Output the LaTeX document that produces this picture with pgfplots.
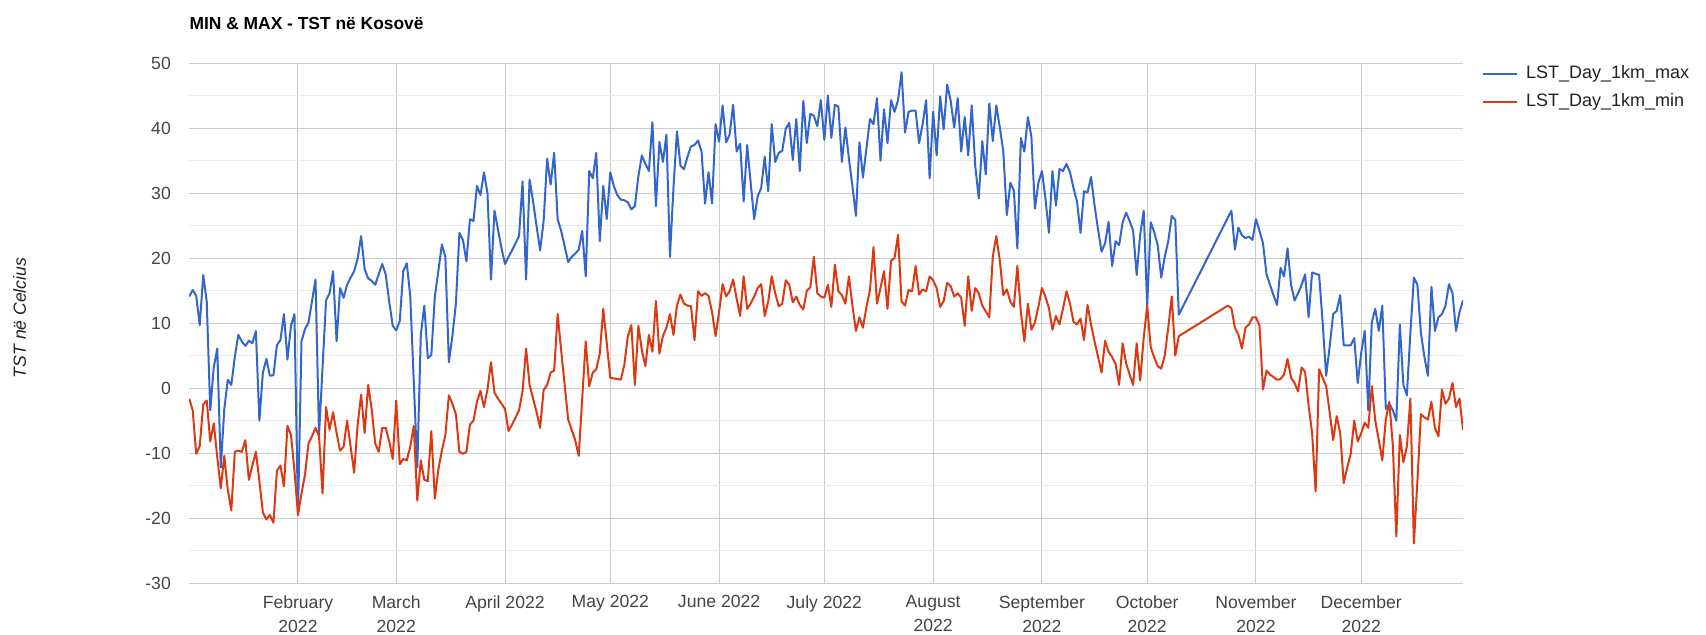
\documentclass[border=0pt]{standalone}
\usepackage{fontspec}
\setmainfont{Liberation Sans}
\usepackage{pgfplots}
\pgfplotsset{compat=1.18}
\definecolor{gblue}{HTML}{3366CC}
\definecolor{gred}{HTML}{DC3912}
\definecolor{gridmaj}{HTML}{CCCCCC}
\definecolor{gridmin}{HTML}{EBEBEB}
\definecolor{ticktext}{HTML}{444444}
\definecolor{labeltext}{HTML}{222222}
\begin{document}
\begin{tikzpicture}
\useasboundingbox (0,0) rectangle (853pt,317pt);
\begin{axis}[
  at={(94.6pt,25.4pt)}, anchor=south west,
  scale only axis, width=636.9pt, height=260.05pt,
  xmin=0, xmax=363, ymin=-30, ymax=50,
  enlargelimits=false,
  axis line style={draw=none},
  major tick length=0pt, minor tick length=0pt,
  xtick={31,59,90,120,151,181,212,243,273,304,334},
  xticklabels={{February\\2022},{March\\2022},{April 2022},{May 2022},{June 2022},{July 2022},{August\\2022},{September\\2022},{October\\2022},{November\\2022},{December\\2022}},
  ytick={-30,-20,-10,0,10,20,30,40,50},
  yticklabels={-30,-20,-10,0,10,20,30,40,50},
  minor ytick={-25,-15,-5,5,15,25,35,45},
  xmajorgrids, ymajorgrids, yminorgrids,
  major grid style={draw=gridmaj, line width=0.5pt},
  minor grid style={draw=gridmin, line width=0.5pt},
  extra y ticks={0}, extra y tick labels={},
  extra y tick style={grid style={draw=black!75, line width=0.6pt}},
  tick label style={font=\fontsize{8.8}{11.9}\selectfont, text=ticktext},
  xticklabel style={align=center, anchor=north, inner sep=0pt, yshift=-6pt},
  yticklabel style={anchor=east, inner sep=0pt, xshift=-9pt},
  ylabel={TST në Celcius},
  ylabel style={at={(axis description cs:-0.1331,0.51)}, anchor=center, inner sep=0pt,
    font=\fontsize{8.8}{10}\selectfont\itshape, text=labeltext},
  title={MIN \& MAX - TST në Kosovë},
  title style={at={(axis description cs:0,1.0752)}, anchor=west, yshift=-6pt, inner sep=0pt,
    font=\fontsize{8.7}{10}\selectfont\bfseries, text=black},
  legend style={at={(axis description cs:1.0146,0.996)}, anchor=north west,
    draw=none, fill=none, inner sep=0pt, row sep=5.6pt, column sep=3.8pt,
    font=\fontsize{9}{10}\selectfont, text=labeltext,
    nodes={inner sep=0pt, text height=6.5pt, text depth=2pt},
    cells={anchor=west}},
  legend image code/.code={\draw[#1] (0pt,0pt) -- (17.2pt,0pt);},
  every axis plot/.append style={line width=1pt, line join=round, mark=none},
]
\addplot[gblue] coordinates {
(0,14.1)(1,15.1)(2,14.2)(3,9.7)(4,17.4)(5,13.3)(6,-3.4)(7,3.2)(8,6.1)(9,-12.2)
(10,-3.2)(11,1.3)(12,0.5)(13,4.8)(14,8.2)(15,7.2)(16,6.5)(17,7.3)(18,6.9)(19,8.8)
(20,-5.0)(21,2.4)(22,4.5)(23,1.9)(24,2.0)(25,6.6)(26,7.4)(27,11.4)(28,4.4)(29,9.6)
(30,11.4)(31,-19.5)(32,7.2)(33,9.1)(34,10.1)(35,13.4)(36,16.7)(37,-7.2)(39,13.5)
(40,14.6)(41,18.0)(42,7.2)(43,15.4)(44,13.9)(45,15.9)(46,17.0)(47,18.0)(48,19.9)(49,23.4)
(50,18.3)(51,16.9)(52,16.5)(53,15.9)(54,17.5)(55,19.1)(56,17.5)(57,13.3)(58,9.6)(59,8.9)
(60,10.3)(61,18.0)(62,19.2)(63,14.1)(65,-12.2)(66,8.2)(67,12.7)(68,4.6)(69,5.1)
(70,14.1)(71,18.0)(72,22.1)(73,20.2)(74,4.0)(75,8.0)(76,13.0)(77,23.9)(78,22.8)(79,19.5)
(80,26.0)(81,25.7)(82,31.1)(83,29.7)(84,33.2)(85,30.0)(86,16.7)(87,27.3)(88,24.4)(89,21.5)
(90,19.1)(91,20.2)(92,21.2)(93,22.3)(94,23.4)(95,31.8)(96,16.7)(97,32.1)(98,28.7)(99,24.9)
(100,21.2)(101,25.7)(102,35.3)(103,31.3)(104,36.2)(105,26.0)(106,24.2)(107,21.8)(108,19.4)(109,20.2)
(110,20.7)(111,21.3)(112,24.2)(113,17.2)(114,33.4)(115,32.3)(116,36.2)(117,22.6)(118,31.1)(119,26.0)
(120,33.2)(121,31.1)(122,29.7)(123,29.0)(124,28.9)(125,28.6)(126,27.5)(127,28.0)(128,32.6)(129,35.8)
(130,34.5)(131,33.4)(132,40.9)(133,28.0)(134,37.9)(135,34.8)(136,39.0)(137,20.2)(138,30.8)(139,39.5)
(140,34.2)(141,33.7)(142,35.6)(143,37.2)(144,37.4)(145,38.1)(146,36.4)(147,28.4)(148,33.2)(149,28.4)
(150,40.6)(151,37.9)(152,43.5)(153,37.8)(154,39.0)(155,43.6)(156,36.4)(157,37.6)(158,28.7)(159,37.4)
(160,31.6)(161,26.0)(162,29.5)(163,30.8)(164,35.6)(165,30.3)(166,40.6)(167,34.8)(168,36.2)(169,36.5)
(170,39.9)(171,40.8)(172,35.1)(173,41.4)(174,33.4)(175,44.2)(176,37.7)(177,42.2)(178,41.9)(179,40.3)
(180,44.3)(181,38.2)(182,45.0)(183,38.5)(184,43.6)(185,43.3)(186,34.8)(187,40.1)(188,35.3)(189,31.1)
(190,26.5)(191,37.8)(192,32.4)(193,36.9)(194,41.4)(195,40.6)(196,44.6)(197,35.0)(198,42.9)(199,37.7)
(200,44.3)(201,42.5)(202,44.3)(203,48.6)(204,39.3)(205,42.5)(206,42.7)(207,42.7)(208,37.7)(209,40.6)
(210,44.3)(211,32.3)(212,42.5)(213,35.8)(214,44.9)(215,39.8)(216,46.7)(217,44.2)(218,40.1)(219,44.6)
(220,36.4)(221,41.7)(222,35.8)(223,43.5)(224,34.2)(225,29.2)(226,38.0)(227,32.9)(228,43.8)(229,38.0)
(230,43.5)(231,40.1)(232,36.4)(233,26.6)(234,31.6)(235,30.4)(236,21.5)(237,38.5)(238,36.4)(239,41.7)
(240,38.7)(241,27.6)(242,31.6)(243,33.4)(244,29.2)(245,23.9)(246,33.4)(247,28.1)(248,33.7)(249,33.4)
(250,34.5)(251,33.2)(252,30.8)(253,28.7)(254,23.9)(255,30.3)(256,30.1)(257,32.5)(258,28.1)(259,24.4)
(260,21.0)(261,22.3)(262,25.6)(263,18.8)(264,22.6)(265,22.0)(266,25.5)(267,27.0)(268,25.7)(269,24.2)
(270,17.4)(271,23.6)(272,27.3)(273,12.7)(274,25.5)(275,24.0)(276,22.0)(277,17.0)(278,20.2)(279,22.6)
(280,26.5)(281,25.9)(282,11.3)
(297,27.3)(298,21.3)(299,24.7)
(300,23.5)(301,23.1)(302,23.3)(303,22.8)(304,26.0)(305,24.2)(306,22.3)(307,17.5)(308,15.9)(309,14.3)
(310,12.8)(311,18.5)(312,17.2)(313,21.5)(314,15.9)(315,13.5)(316,14.6)(317,15.9)(318,17.5)(319,10.9)
(320,17.8)(321,17.6)(322,17.4)(323,10.1)(324,1.9)(325,6.4)(326,11.4)(327,11.9)(328,14.3)(329,6.6)
(330,6.6)(331,6.6)(332,7.7)(333,0.8)(334,5.5)(335,8.8)(336,-3.4)(337,10.1)(338,12.2)(339,8.8)
(340,12.7)(341,-3.2)(342,-2.4)(343,-3.4)(344,-5.0)(345,9.8)(346,0.5)(347,-1.1)(348,8.5)(349,17.0)
(350,15.9)(351,8.5)(352,4.8)(353,1.9)(354,15.6)(355,8.8)(356,10.9)(357,11.4)(358,12.7)(359,16.0)
(360,14.6)(361,8.8)(362,11.7)(363,13.5)
};
\addlegendentry{LST\_Day\_1km\_max}
\addplot[gred] coordinates {
(0,-1.6)(1,-3.4)(2,-10.1)(3,-8.9)(4,-2.5)(5,-1.9)(6,-8.2)(7,-5.4)(8,-10.6)(9,-15.4)
(10,-10.4)(11,-15.7)(12,-18.8)(13,-9.8)(14,-9.6)(15,-9.8)(16,-8.0)(17,-14.1)(18,-11.9)(19,-9.8)
(20,-14.3)(21,-19.1)(22,-20.2)(23,-19.5)(24,-20.7)(25,-12.7)(26,-11.9)(27,-15.1)(28,-5.8)(29,-7.2)
(30,-12.7)(31,-19.5)(32,-16.2)(33,-13.3)(34,-8.5)(35,-7.4)(36,-6.1)(37,-7.4)(38,-16.2)(39,-2.9)
(40,-6.4)(41,-3.7)(42,-6.9)(43,-9.6)(44,-9.0)(45,-5.0)(46,-9.0)(47,-13.0)(48,-5.6)(49,-1.0)
(50,-6.9)(51,0.5)(52,-3.2)(53,-8.5)(54,-9.8)(55,-6.1)(56,-6.1)(57,-8.2)(58,-10.9)(59,-1.9)
(60,-11.7)(61,-10.9)(62,-11.1)(63,-9.0)(64,-5.8)(65,-17.3)(66,-11.1)(67,-14.1)(68,-14.3)(69,-6.6)
(70,-17.0)(71,-12.5)(72,-9.6)(73,-7.2)(74,-1.1)(75,-2.4)(76,-4.0)(77,-9.8)(78,-10.1)(79,-9.8)
(80,-5.6)(81,-5.0)(82,-2.1)(83,-0.4)(84,-2.9)(85,-0.2)(86,4.0)(87,-0.7)(88,-1.6)(89,-2.4)
(90,-3.2)(91,-6.6)(92,-5.6)(93,-4.5)(94,-3.4)(95,-0.5)(96,6.1)(97,0.5)(98,-1.6)(99,-3.7)
(100,-6.1)(101,-0.3)(102,0.5)(103,2.4)(104,2.7)(105,11.4)(106,5.8)(107,0.5)(108,-4.8)(109,-6.4)
(110,-8.0)(111,-10.4)(113,7.2)(114,0.3)(115,2.4)(116,2.9)(117,5.3)(118,12.2)(119,6.9)
(120,1.6)(121,1.5)(122,1.4)(123,1.3)(124,3.6)(125,8.0)(126,9.7)(127,0.5)(128,9.6)(129,5.8)
(130,3.4)(131,8.2)(132,5.6)(133,13.4)(134,5.3)(135,8.0)(136,9.3)(137,11.4)(138,8.2)(139,12.7)
(140,14.4)(141,13.0)(142,12.7)(143,12.6)(144,7.4)(145,14.9)(146,14.2)(147,14.6)(148,14.2)(149,11.7)
(150,8.0)(151,11.7)(152,16.0)(153,14.1)(154,14.9)(155,16.7)(156,13.8)(157,11.1)(158,17.2)(159,12.2)
(160,13.0)(161,14.1)(162,15.4)(163,16.0)(164,11.1)(165,13.3)(166,17.2)(167,14.6)(168,12.6)(169,13.0)
(170,16.6)(171,15.9)(172,13.2)(173,14.1)(174,12.8)(175,12.1)(176,15.0)(177,15.5)(178,20.2)(179,14.6)
(180,14.1)(181,13.9)(182,15.9)(183,12.5)(184,19.0)(185,14.9)(186,14.3)(187,13.0)(188,17.2)(189,12.7)
(190,8.8)(191,10.9)(192,9.3)(193,12.5)(194,15.1)(195,21.7)(196,13.0)(197,15.4)(198,18.0)(199,12.2)
(200,19.6)(201,20.0)(202,23.6)(203,13.3)(204,12.7)(205,15.1)(206,14.9)(207,18.8)(208,14.4)(209,15.2)
(210,14.9)(211,17.2)(212,16.6)(213,15.4)(214,12.5)(215,13.4)(216,16.2)(217,15.7)(218,14.1)(219,14.6)
(220,13.9)(221,9.6)(222,17.2)(223,11.9)(224,15.4)(225,14.6)(226,12.7)(227,11.8)(228,10.9)(229,20.2)
(230,23.4)(231,19.6)(232,14.3)(233,15.2)(234,13.3)(235,12.5)(236,18.8)(237,11.7)(238,7.2)(239,13.0)
(240,9.0)(241,10.1)(242,12.5)(243,15.4)(244,14.1)(245,12.3)(246,9.0)(247,11.1)(248,9.8)(249,12.2)
(250,14.9)(251,13.0)(252,10.2)(253,9.8)(254,10.7)(255,7.4)(256,12.8)(257,9.8)(258,7.2)(259,4.8)
(260,2.4)(261,7.3)(262,5.6)(263,4.8)(264,3.7)(265,0.5)(266,6.9)(267,3.8)(268,2.1)(269,0.5)
(270,6.9)(271,1.2)(272,7.7)(273,12.7)(274,6.3)(275,4.7)(276,3.4)(277,3.0)(278,5.0)(279,9.3)
(280,14.1)(281,5.0)(282,8.0)
(296,12.7)(297,12.3)(298,9.3)(299,8.2)
(300,6.1)(301,9.3)(302,9.8)(303,10.9)(304,10.9)(305,9.6)(306,-0.2)(307,2.7)(308,2.1)(309,1.7)
(310,1.3)(311,1.4)(312,2.1)(313,4.5)(314,1.6)(315,0.8)(316,-0.5)(317,3.2)(318,2.5)(319,-2.7)
(320,-6.9)(321,-15.9)(322,2.9)(323,1.6)(324,0.3)(325,-3.7)(326,-8.0)(327,-4.3)(328,-6.9)(329,-14.6)
(330,-12.2)(331,-10.1)(332,-5.0)(333,-8.2)(334,-6.9)(335,-5.3)(336,-6.1)(337,0.3)(338,-5.0)(339,-8.0)
(340,-11.1)(341,-4.8)(342,-2.1)(343,-8.8)(344,-22.8)(345,-7.2)(346,-11.4)(347,-9.0)(348,-1.6)(349,-23.9)
(350,-14.3)(351,-4.0)(352,-4.5)(353,-4.8)(354,-2.1)(355,-6.1)(356,-7.4)(357,-0.2)(358,-2.4)(359,-1.6)
(360,0.8)(361,-2.9)(362,-1.6)(363,-6.4)
};
\addlegendentry{LST\_Day\_1km\_min}
\end{axis}
\end{tikzpicture}
\end{document}
